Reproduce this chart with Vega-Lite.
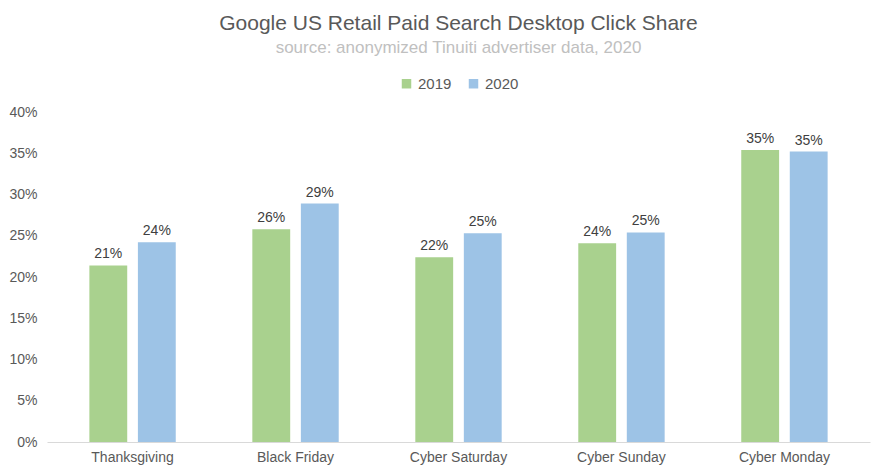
{
  "$schema": "https://vega.github.io/schema/vega-lite/v6.json",
  "width": 884,
  "height": 475,
  "autosize": {"type": "fit", "contains": "padding"},
  "padding": {"left": 8, "right": 14, "top": 13, "bottom": 11},
  "background": "white",
  "title": {
    "text": "Google US Retail Paid Search Desktop Click Share",
    "subtitle": "source: anonymized Tinuiti advertiser data, 2020",
    "font": "Liberation Sans",
    "fontSize": 21,
    "fontWeight": "normal",
    "color": "#595959",
    "subtitleFont": "Liberation Sans",
    "subtitleFontSize": 17,
    "subtitleColor": "#c0c0c0",
    "subtitlePadding": 6,
    "anchor": "middle",
    "offset": 20
  },
  "data": {
    "values": [
      {"day": "Thanksgiving", "year": "2019", "share": 0.214},
      {"day": "Thanksgiving", "year": "2020", "share": 0.242},
      {"day": "Black Friday", "year": "2019", "share": 0.258},
      {"day": "Black Friday", "year": "2020", "share": 0.289},
      {"day": "Cyber Saturday", "year": "2019", "share": 0.224},
      {"day": "Cyber Saturday", "year": "2020", "share": 0.253},
      {"day": "Cyber Sunday", "year": "2019", "share": 0.241},
      {"day": "Cyber Sunday", "year": "2020", "share": 0.254},
      {"day": "Cyber Monday", "year": "2019", "share": 0.354},
      {"day": "Cyber Monday", "year": "2020", "share": 0.352}
    ]
  },
  "encoding": {
    "x": {
      "field": "day",
      "type": "nominal",
      "sort": null,
      "title": null,
      "scale": {"paddingInner": 0.47, "paddingOuter": 0.26},
      "axis": {
        "labelAngle": 0,
        "ticks": false,
        "domainColor": "#d9d9d9",
        "labelColor": "#595959",
        "labelFont": "Liberation Sans",
        "labelFontSize": 14,
        "labelPadding": 8
      }
    },
    "xOffset": {"field": "year", "type": "nominal", "scale": {"paddingInner": 0.22}},
    "y": {
      "field": "share",
      "type": "quantitative",
      "title": null,
      "scale": {"domain": [0, 0.4]},
      "axis": {
        "format": ".0%",
        "values": [0, 0.05, 0.1, 0.15, 0.2, 0.25, 0.3, 0.35, 0.4],
        "labelOverlap": false,
        "grid": false,
        "domain": false,
        "ticks": false,
        "labelColor": "#595959",
        "labelFont": "Liberation Sans",
        "labelFontSize": 14,
        "labelPadding": 10
      }
    }
  },
  "layer": [
    {
      "mark": {"type": "bar"},
      "encoding": {
        "color": {
          "field": "year",
          "type": "nominal",
          "title": null,
          "scale": {"domain": ["2019", "2020"], "range": ["#a9d18e", "#9dc3e6"]},
          "legend": {
            "orient": "top",
            "direction": "horizontal",
            "symbolType": "square",
            "symbolSize": 90,
            "labelFont": "Liberation Sans",
            "labelFontSize": 15,
            "labelColor": "#595959",
            "columnPadding": 14,
            "offset": 20
          }
        }
      }
    },
    {
      "mark": {
        "type": "text",
        "dy": -11,
        "font": "Liberation Sans",
        "fontSize": 14,
        "color": "#404040"
      },
      "encoding": {
        "text": {"field": "share", "type": "quantitative", "format": ".0%"}
      }
    }
  ],
  "config": {
    "view": {"stroke": null},
    "legend": {"layout": {"top": {"anchor": "middle"}}}
  }
}
